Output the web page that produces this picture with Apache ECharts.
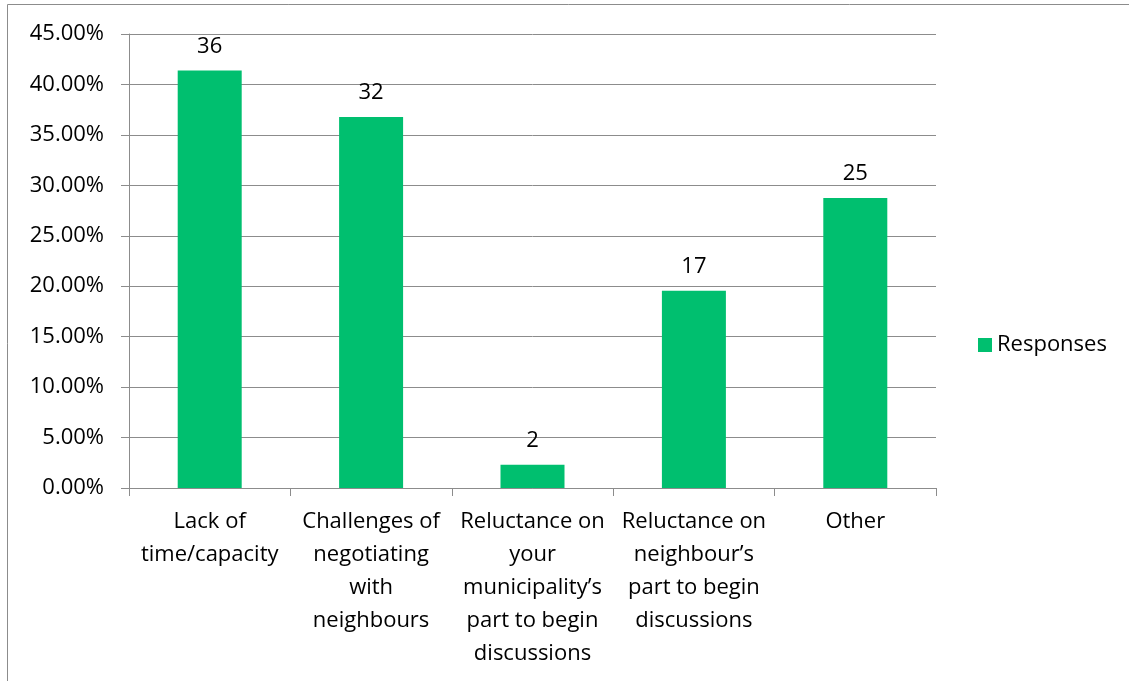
<!DOCTYPE html>
<html>
<head>
<meta charset="utf-8">
<script src="https://cdn.jsdelivr.net/npm/echarts@6/dist/echarts.min.js"></script>
<style>html,body{margin:0;padding:0;background:#fff}#c{width:1129px;height:681px}</style>
</head>
<body>
<div id="c"></div>
<script>
const categories = ["Lack of\ntime/capacity", "Challenges of\nnegotiating\nwith\nneighbours", "Reluctance on\nyour\nmunicipality\u2019s\npart to begin\ndiscussions", "Reluctance on\nneighbour\u2019s\npart to begin\ndiscussions", "Other"];
const percentages = [41.38, 36.78, 2.30, 19.54, 28.74];
const counts = [36, 32, 2, 17, 25];
const seriesName = "Responses";

const FONT = "Open Sans";
const chart = echarts.init(document.getElementById('c'), null, {renderer: 'canvas'});
chart.setOption({
  animation: false,
  textStyle: {fontFamily: FONT},
  graphic: [{type: 'rect', shape: {x: 7.5, y: 4.5, width: 1200, height: 800}, style: {fill: 'none', stroke: '#8c8c8c', lineWidth: 1}, silent: true}],
  grid: {left: 129, right: 193, top: 34, bottom: 193, containLabel: false},
  legend: {
    data: [seriesName], left: 978, top: 334, padding: 0, itemWidth: 14, itemHeight: 14, itemGap: 8,
    icon: 'rect', textStyle: {fontFamily: FONT, fontSize: 22, color: '#000'}
  },
  xAxis: {
    type: 'category', data: categories,
    axisLine: {lineStyle: {color: '#8c8c8c', width: 1}},
    axisTick: {show: true, length: 8, alignWithLabel: false, lineStyle: {color: '#8c8c8c'}},
    axisLabel: {interval: 0, fontFamily: FONT, fontSize: 22, color: '#000', lineHeight: 33, margin: 17, align: 'center'}
  },
  yAxis: {
    type: 'value', min: 0, max: 45, interval: 5,
    axisLine: {show: true, lineStyle: {color: '#8c8c8c', width: 1}},
    axisTick: {show: true, length: 8, lineStyle: {color: '#8c8c8c'}},
    splitLine: {lineStyle: {color: '#8c8c8c', width: 1}},
    axisLabel: {formatter: v => v.toFixed(2) + '%', fontFamily: FONT, fontSize: 22, color: '#000', margin: 25}
  },
  series: [{
    name: seriesName, type: 'bar', data: percentages, barWidth: 64,
    itemStyle: {color: '#00BF6F'},
    label: {show: true, position: 'top', distance: 13, fontFamily: FONT, fontSize: 22, color: '#000',
      formatter: p => String(counts[p.dataIndex])}
  }]
});
</script>
</body>
</html>
